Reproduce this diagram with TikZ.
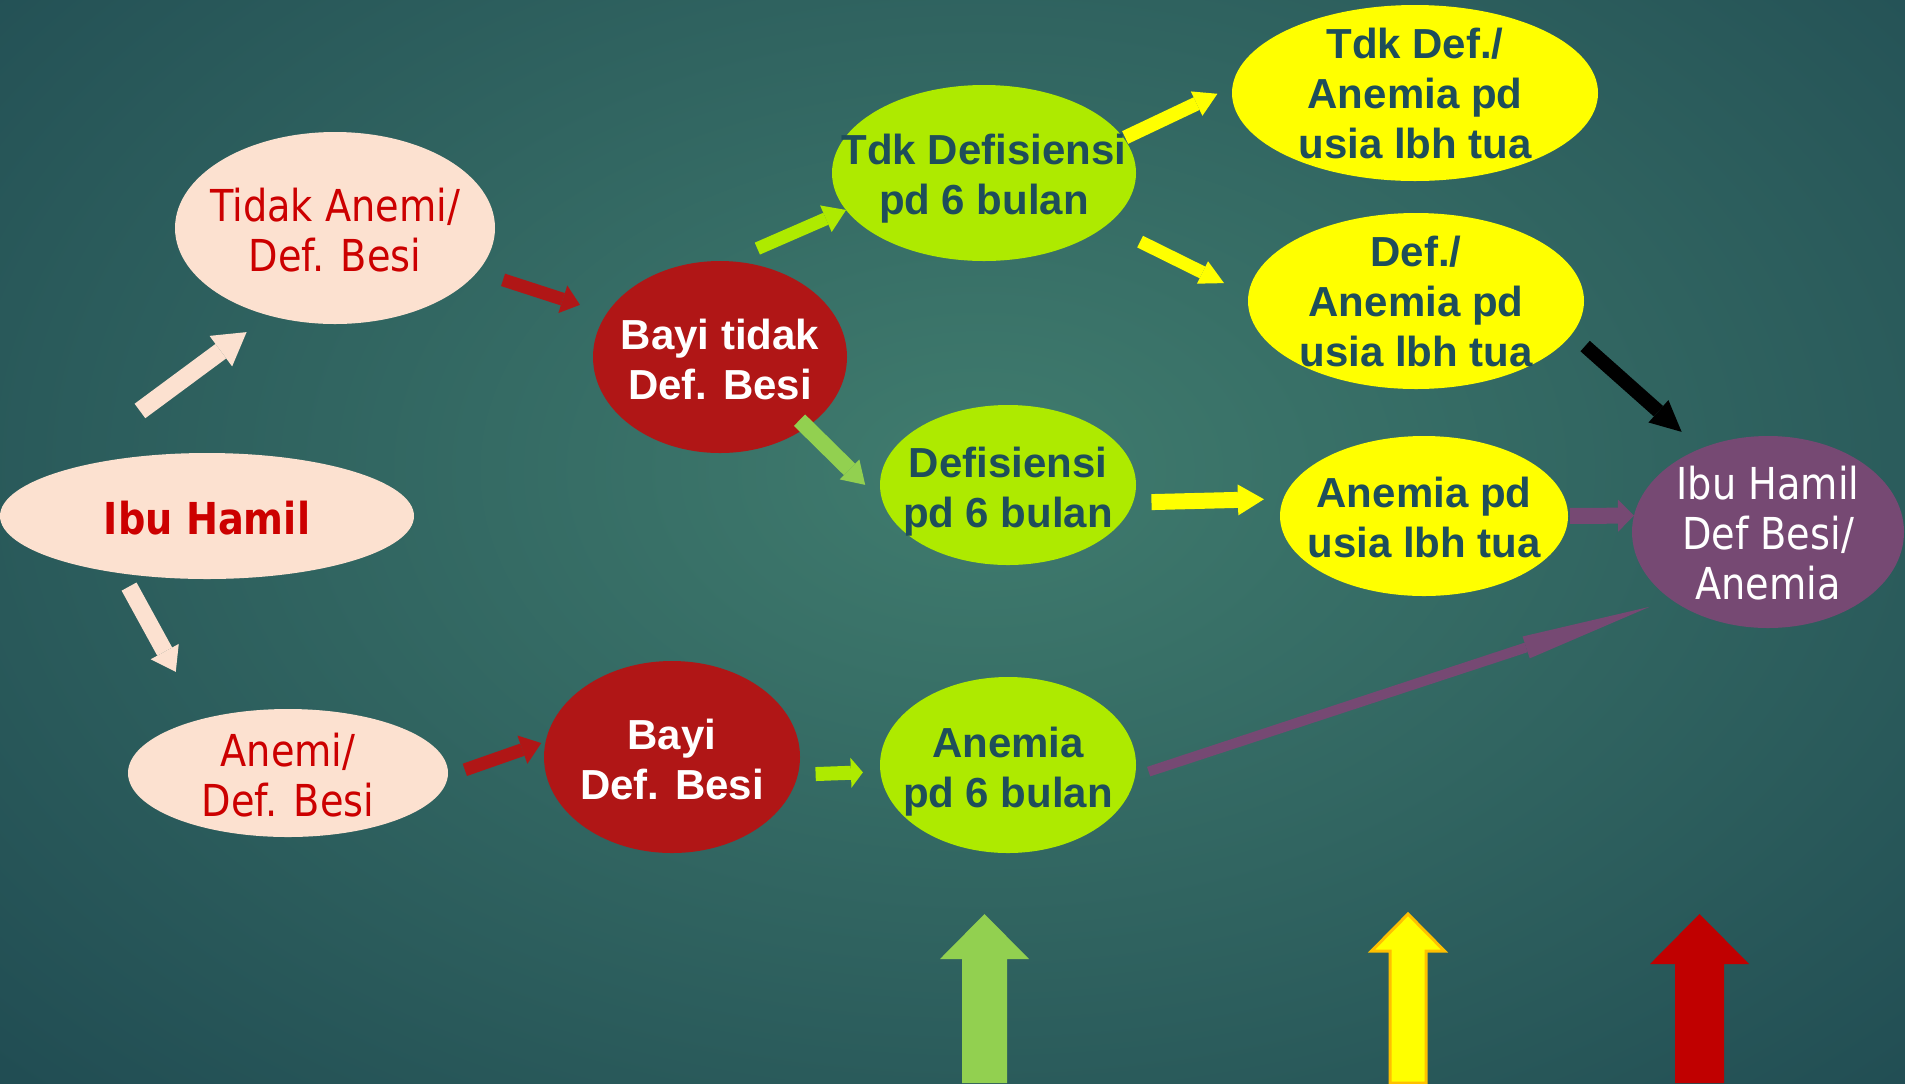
\documentclass[tikz,border=0pt]{standalone}
\usepackage{fontspec}
\setmainfont{Liberation Sans}
\newfontfamily\tahoma{DejaVu Sans}[FakeStretch=0.87]
\usetikzlibrary{shapes.geometric,arrows.meta}

\definecolor{pinkfill}{RGB}{252,225,208}
\definecolor{redtxt}{RGB}{204,0,0}
\definecolor{darkred}{RGB}{176,22,22}
\definecolor{lime}{RGB}{174,234,0}
\definecolor{lightgreen}{RGB}{146,208,80}
\definecolor{yel}{RGB}{255,255,0}
\definecolor{plum}{RGB}{118,73,115}
\definecolor{tealtxt}{RGB}{30,78,90}
\definecolor{amber}{RGB}{255,192,0}
\definecolor{deepred}{RGB}{192,0,0}
\definecolor{bgin}{RGB}{64,124,110}
\definecolor{bgout}{RGB}{18,54,70}

\tikzset{
  oval/.style={ellipse, inner sep=0pt, outer sep=0pt},
  pinktxt/.style={font=\tahoma\fontsize{22}{25}\selectfont, text=redtxt, align=center, yshift=-1pt},
  ibutxt/.style={font=\tahoma\bfseries\fontsize{22}{25}\selectfont, text=redtxt, yshift=-1pt},
  whitetxt/.style={font=\bfseries\fontsize{21}{25}\selectfont, text=white, align=center, yshift=-1pt},
  darktxt/.style={font=\bfseries\fontsize{21}{25}\selectfont, text=tealtxt, align=center},
  plumtxt/.style={font=\tahoma\fontsize{22}{25}\selectfont, text=white, align=center, yshift=-0.5pt},
  arrhead/.style 2 args={-{Triangle[length=#1,width=#2,line width=0pt]}},
}

% block arrow pointing up: x center, shaft half, head half, head base y, style
\newcommand{\blockup}[5]{%
  \filldraw[#5] (#1-#2,-1083) -- (#1-#2,-#4) -- (#1-#3,-#4) -- (#1,-914)
    -- (#1+#3,-#4) -- (#1+#2,-#4) -- (#1+#2,-1083) -- cycle;}

\begin{document}
\begin{tikzpicture}[x=0.5pt,y=0.5pt]
\useasboundingbox (0,0) rectangle (1905,-1083);
% background
\fill[bgout] (0,0) rectangle (1905,-1083);
\begin{scope}
\clip (0,0) rectangle (1905,-1083);
\shade[inner color=bgin, outer color=bgout] (980,-470) ellipse (2000 and 1300);
\end{scope}

% mother
\node[oval, fill=pinkfill, minimum width=207pt, minimum height=63pt,
  label={[ibutxt]center:Ibu Hamil}] (ibu) at (207,-516) {};
\node[oval, fill=pinkfill, minimum width=160pt, minimum height=96pt,
  label={[pinktxt]center:Tidak Anemi/\\Def. Besi}] (tidak) at (335,-228) {};
\node[oval, fill=pinkfill, minimum width=160pt, minimum height=64pt,
  label={[pinktxt]center:Anemi/\\Def. Besi}] (anemi) at (288,-773) {};

% baby
\node[oval, fill=darkred, minimum width=127pt, minimum height=96pt,
  label={[whitetxt]center:Bayi tidak\\Def. Besi}] (bayitdk) at (720,-357) {};
\node[oval, fill=darkred, minimum width=128pt, minimum height=96pt,
  label={[whitetxt]center:Bayi\\Def. Besi}] (bayidef) at (672,-757) {};

% 6 months
\node[oval, fill=lime, minimum width=152pt, minimum height=88pt,
  label={[darktxt, yshift=-3pt]center:Tdk Defisiensi\\pd 6 bulan}] (tdkdefs) at (984,-173) {};
\node[oval, fill=lime, minimum width=128pt, minimum height=80pt,
  label={[darktxt, yshift=-3.5pt]center:Defisiensi\\pd 6 bulan}] (defs) at (1008,-485) {};
\node[oval, fill=lime, minimum width=128pt, minimum height=88pt,
  label={[darktxt, yshift=-3.5pt]center:Anemia\\pd 6 bulan}] (anem6) at (1008,-765) {};

% older age
\node[oval, fill=yel, minimum width=183pt, minimum height=88pt,
  label={[darktxt]center:Tdk Def./\\Anemia pd\\usia lbh tua}] (tdkdefu) at (1415,-93) {};
\node[oval, fill=yel, minimum width=168pt, minimum height=88pt,
  label={[darktxt]center:Def./\\Anemia pd\\usia lbh tua}] (defu) at (1416,-301) {};
\node[oval, fill=yel, minimum width=144pt, minimum height=80pt,
  label={[darktxt, yshift=-0.5pt]center:Anemia pd\\usia lbh tua}] (anemu) at (1424,-516) {};

\node[oval, fill=plum, minimum width=136pt, minimum height=96pt,
  label={[plumtxt]center:Ibu Hamil\\Def Besi/\\Anemia}] (ibudb) at (1768,-532) {};

% arrows
\draw[draw=pinkfill, line width=9pt, arrhead={16pt}{19pt}, shorten <=52pt, shorten >=14pt] (ibu.164) -- (tidak.233);
\draw[draw=pinkfill, line width=8.5pt, arrhead={11.5pt}{16pt}, shorten <=7.5pt, shorten >=27pt] (ibu.214.8) -- (anemi.148);
\draw[draw=darkred, line width=6.5pt, arrhead={9pt}{14.5pt}, shorten <=13.4pt, shorten >=14.1pt] (tidak.343.1) -- (bayitdk.159.9);
\draw[draw=darkred, line width=6.5pt, arrhead={10pt}{15pt}, shorten <=9pt, shorten >=2.35pt] (anemi.359.4) -- (bayidef.173.5);
\draw[draw=lime, line width=6.5pt, arrhead={11pt}{14.5pt}, shorten <=15.8pt] (bayitdk.85.3) -- (tdkdefs.195.7);
\draw[draw=lightgreen, line width=8pt, arrhead={11pt}{14pt}, shorten <=-5pt, shorten >=12.6pt] (bayitdk.321.8) -- (defs.188.7);
\draw[draw=lime, line width=7pt, arrhead={6pt}{15pt}, shorten <=8.9pt, shorten >=8.75pt] (bayidef.352.8) -- (anem6.183.6);
\draw[draw=yel, line width=7pt, arrhead={11.5pt}{13.5pt}, shorten <=0.85pt, shorten >=8.35pt] (tdkdefs.14.7) -- (tdkdefu.178.9);
\draw[draw=yel, line width=6.5pt, arrhead={12pt}{12.5pt}, shorten <=18.7pt, shorten >=13.6pt] (tdkdefs.337) -- (defu.178.8);
\draw[draw=yel, line width=8pt, arrhead={13pt}{15.5pt}, shorten <=9.3pt, shorten >=9.75pt] (defs.352.7) -- (anemu.173.9);
\draw[draw=black, line width=7pt, arrhead={15.5pt}{15pt}, shorten <=9pt, shorten >=12.65pt] (defu.348) -- (ibudb.129.4);
\draw[draw=plum, line width=8pt, arrhead={8pt}{16pt}, shorten <=1pt] (anemu.0) -- (ibudb.173.6);
\draw[draw=plum, line width=5pt, arrhead={65pt}{11.5pt}, shorten <=7.2pt, shorten >=11.5pt] (anem6.355.8) -- (ibudb.215.2);

% bottom arrows
\blockup{984.5}{22.5}{44.5}{959}{fill=lightgreen, draw=none}
\blockup{1408}{18}{36.5}{951}{fill=yel, draw=amber, line width=1.5pt}
\blockup{1699.5}{24.5}{49.5}{964}{fill=deepred, draw=none}
\end{tikzpicture}
\end{document}
